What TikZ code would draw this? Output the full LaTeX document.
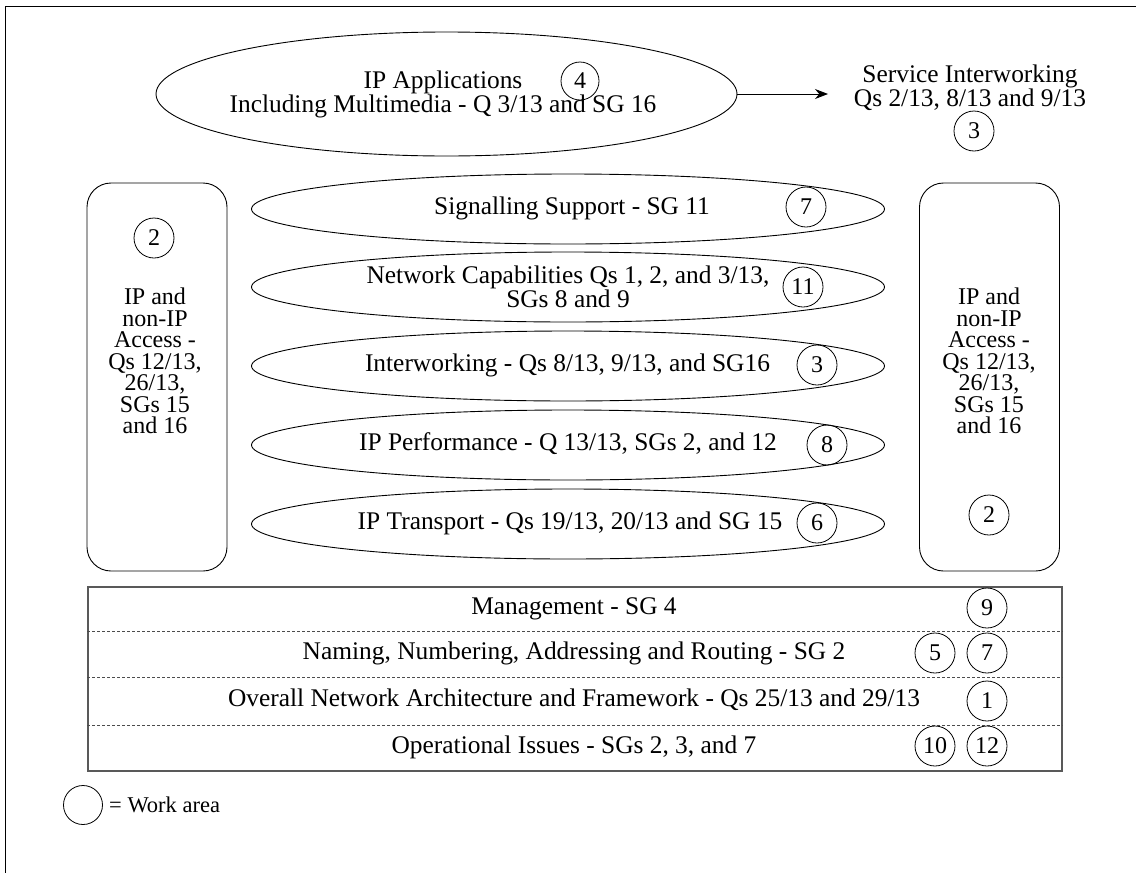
\documentclass[tikz,border=0pt]{standalone}
\usepackage{fontspec}
\setmainfont{Liberation Serif}
\usetikzlibrary{shapes.geometric,arrows.meta}
\tikzset{
  lbl/.style={font=\fontsize{25.4}{21.5}\selectfont, align=center, inner sep=0pt},
  boxlbl/.style={font=\fontsize{24}{21.5}\selectfont, align=center, inner sep=0pt},
  lblone/.style={font=\fontsize{25.4}{21.5}\selectfont, inner sep=0pt, text height=17pt, text depth=5.5pt},
  wa/.style={circle, draw, line width=0.8pt, minimum size=40pt, inner sep=0pt, font=\fontsize{24}{24}\selectfont},
  layer/.style={ellipse, draw, line width=0.9pt, minimum width=633pt, minimum height=70pt, inner sep=0pt},
  access/.style={draw, rounded corners=24pt, line width=0.9pt, minimum width=140pt, minimum height=388pt, inner sep=0pt},
  rowsep/.style={dashed, dash pattern=on 3pt off 2pt, line width=0.6pt, draw=black!70},
}
\begin{document}
\begin{tikzpicture}[x=1pt,y=-1pt]
\useasboundingbox (0,0) rectangle (1136,873);
% outer frame (left and top edges)
\draw[line width=0.9pt] (5,873) -- (5,6) -- (1136,6);

% top: IP applications
\node[ellipse, draw, line width=0.9pt, minimum width=581pt, minimum height=124pt, inner sep=0pt] (app) at (446.5,94) {};
\node[lbl] (apptxt) at (443,94) {IP Applications\\Including Multimedia - Q 3/13 and SG 16};
\node[wa, minimum size=38pt] (w4) at (580,81) {4};
\coordinate (arrend) at (828,94);
\draw[line width=0.9pt, -{Stealth[length=13pt,width=10pt]}] (app.east) -- (arrend);
\node[lbl, font=\fontsize{25.4}{20}\selectfont] (sitxt) at (970,88) {Service Interworking\\Qs 2/13, 8/13 and 9/13};
\node[wa] (w3a) at (974,131) {3};

% access boxes
\node[access] (lacc) at (157,377) {};
\node[wa] (w2a) at (154,238) {2};
\node[boxlbl] (lacctxt) at (155,361) {IP and\\non-IP\\Access -\\Qs 12/13,\\26/13,\\SGs 15\\and 16};
\node[access] (racc) at (989.5,377) {};
\node[boxlbl] (racctxt) at (989,361) {IP and\\non-IP\\Access -\\Qs 12/13,\\26/13,\\SGs 15\\and 16};
\node[wa] (w2b) at (989,515) {2};

% layers
\node[layer] (sig) at (568,209) {};
\node[lblone] (sigtxt) at (572,209) {Signalling Support - SG 11};
\node[wa] (w7a) at (806,207) {7};

\node[layer] (netc) at (568,287) {};
\node[lbl] (netctxt) at (568,286.5) {Network Capabilities Qs 1, 2, and 3/13,\\SGs 8 and 9};
\node[wa] (w11) at (803,287) {11};

\node[layer] (inter) at (568,366) {};
\node[lblone] (intertxt) at (567.5,366) {Interworking - Qs 8/13, 9/13, and SG16};
\node[wa] (w3b) at (817,365) {3};

\node[layer] (perf) at (568,445) {};
\node[lblone] (perftxt) at (568,445) {IP Performance - Q 13/13, SGs 2, and 12};
\node[wa] (w8) at (827,445) {8};

\node[layer] (trans) at (568,524) {};
\node[lblone] (transtxt) at (570,524) {IP Transport - Qs 19/13, 20/13 and SG 15};
\node[wa] (w6) at (817,523) {6};

% bottom table
\node[draw=black!65, line width=1.1pt, minimum width=974pt, minimum height=184pt, inner sep=0pt] (tbl) at (575,679) {};
\draw[rowsep] (tbl.west |- 0,631) -- (tbl.east |- 0,631);
\draw[rowsep] (tbl.west |- 0,677) -- (tbl.east |- 0,677);
\draw[rowsep] (tbl.west |- 0,725) -- (tbl.east |- 0,725);

\node[lblone] (mgmt) at (574,609) {Management - SG 4};
\node[lblone] (naming) at (574,654) {Naming, Numbering, Addressing and Routing - SG 2};
\node[lblone] (overall) at (574,701) {Overall Network Architecture and Framework - Qs 25/13 and 29/13};
\node[lblone] (oper) at (574,748) {Operational Issues - SGs 2, 3, and 7};

\node[wa] (w9) at (987,608) {9};
\node[wa] (w5) at (935,653) {5};
\node[wa] (w7b) at (987,653) {7};
\node[wa] (w1) at (987,701) {1};
\node[wa] (w10) at (935,746) {10};
\node[wa] (w12) at (987,746) {12};

% legend
\node[wa, minimum size=39pt] (lgc) at (83,805) {};
\node[font=\fontsize{22.5}{24}\selectfont, anchor=west, inner sep=0pt] (lgt) at (109,805) {= Work area};
\end{tikzpicture}
\end{document}
